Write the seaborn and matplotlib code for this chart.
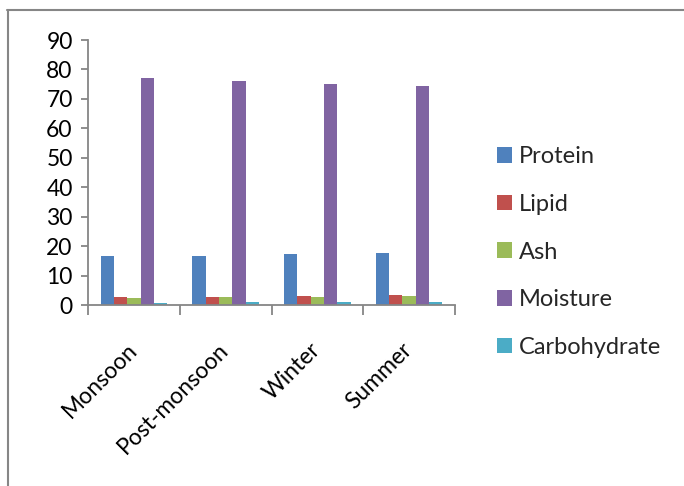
import matplotlib
matplotlib.use("Agg")
import matplotlib.pyplot as plt
from matplotlib.lines import Line2D
import seaborn as sns
import pandas as pd

seasons = ["Monsoon", "Post-monsoon", "Winter", "Summer"]
components = ["Protein", "Lipid", "Ash", "Moisture", "Carbohydrate"]
protein = [16.5, 16.8, 17.2, 17.5]
lipid = [2.6, 2.8, 3.0, 3.3]
ash = [2.3, 2.6, 2.8, 2.9]
moisture = [77.0, 76.0, 75.1, 74.3]
carbohydrate = [0.7, 0.9, 1.0, 1.1]
colors = ["#4F81BD", "#C0504D", "#9BBB59", "#8064A2", "#4BACC6"]
yticks = [0, 10, 20, 30, 40, 50, 60, 70, 80, 90]

series = [protein, lipid, ash, moisture, carbohydrate]
rows = []
for comp, vals in zip(components, series):
    for s, v in zip(seasons, vals):
        rows.append({"Season": s, "Component": comp, "Value": v})
df = pd.DataFrame(rows)

sns.set_theme(style="white")
plt.rcParams["font.family"] = ["Lato", "DejaVu Sans"]

fig = plt.figure(figsize=(6.84, 4.86), dpi=100)
ax = fig.add_axes([88 / 684, 1 - 305 / 486, (455 - 88) / 684, (305 - 40) / 486])

sns.barplot(data=df, x="Season", y="Value", hue="Component", order=seasons,
            hue_order=components, palette=colors, width=0.727, gap=0,
            saturation=1, ax=ax, legend=True, linewidth=0)

ax.set_xlim(-0.5, 3.5)
ax.set_ylim(0, 90)
ax.set_yticks(yticks)
ax.set_xlabel("")
ax.set_ylabel("")

axis_color = "#868686"
for side in ["top", "right"]:
    ax.spines[side].set_visible(False)
for side in ["left", "bottom"]:
    ax.spines[side].set_color(axis_color)
    ax.spines[side].set_linewidth(1.3)

ax.tick_params(axis="y", which="major", direction="out", length=5, width=1.3,
               color=axis_color, labelsize=16.5, labelcolor="black", pad=6, left=True)
ax.set_xticks([-0.5, 0.5, 1.5, 2.5, 3.5], minor=True)
ax.tick_params(axis="x", which="minor", direction="out", length=7, width=1.3,
               color=axis_color, bottom=True)
ax.tick_params(axis="x", which="major", length=0, labelsize=16.5,
               labelcolor="black", pad=30)
for lab in ax.get_xticklabels():
    lab.set_rotation(45)
    lab.set_ha("right")
    lab.set_va("center")
    lab.set_rotation_mode("anchor")

handles, labels = ax.get_legend_handles_labels()
for h in handles:
    h.set_edgecolor("none")
ax.legend(handles, labels, loc="center left", bbox_to_anchor=(1.114, 0.2),
          frameon=False, fontsize=17, handlelength=0.64, handleheight=0.64,
          handletextpad=0.3, labelspacing=1.13, borderaxespad=0, borderpad=0)

fig.add_artist(Line2D([8 / 684, 8 / 684], [0, 1 - 10 / 486], color=axis_color,
                      linewidth=1.5, transform=fig.transFigure))
fig.add_artist(Line2D([7 / 684, 1], [1 - 10 / 486, 1 - 10 / 486], color=axis_color,
                      linewidth=1.5, transform=fig.transFigure))

fig.savefig("out.png", dpi=100)
